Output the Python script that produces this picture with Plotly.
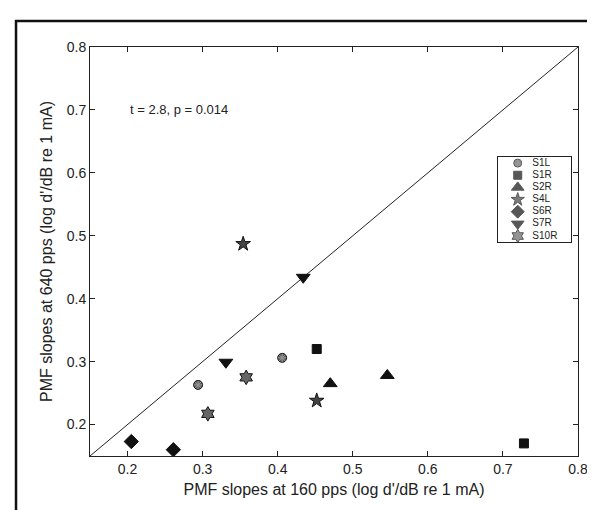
import plotly.graph_objects as go

# subject slopes: 160 pps (x) vs 640 pps (y)
subjects = ["S1L", "S1R", "S2R", "S4L", "S6R", "S7R", "S10R"]
x_160 = [
    [0.294, 0.406],
    [0.452, 0.728],
    [0.470, 0.546],
    [0.354, 0.452],
    [0.205, 0.261],
    [0.331, 0.434],
    [0.307, 0.358],
]
y_640 = [
    [0.263, 0.306],
    [0.320, 0.170],
    [0.265, 0.278],
    [0.487, 0.238],
    [0.173, 0.160],
    [0.299, 0.434],
    [0.217, 0.275],
]
tick_vals = [0.2, 0.3, 0.4, 0.5, 0.6, 0.7, 0.8]
unity = [0.15, 0.8]

symbols = ["circle", "square", "triangle-up", "star", "diamond", "triangle-down", "hexagram"]
fills = ["#5e5e5e", "#111111", "#111111", "#444444", "#111111", "#111111", "#666666"]
sizes = [9, 9, 12, 11, 11, 12, 11]
leg_sizes = [8, 8, 11, 10, 10, 11, 10]

fig = go.Figure()

fig.add_trace(go.Scatter(x=unity, y=unity, mode="lines",
                         line=dict(color="#222", width=1), showlegend=False,
                         hoverinfo="skip"))

for i, s in enumerate(subjects):
    fig.add_trace(go.Scatter(
        x=x_160[i], y=y_640[i], mode="markers", name=s, showlegend=False,
        marker=dict(symbol=symbols[i], size=sizes[i], color=fills[i],
                    line=dict(color="#111", width=1)),
    ))

# S1L circles carry a light asterisk inside
fig.add_trace(go.Scatter(
    x=x_160[0], y=y_640[0], mode="markers", showlegend=False, hoverinfo="skip",
    marker=dict(symbol="asterisk-open", size=7, color="#9a9a9a",
                line=dict(color="#9a9a9a", width=1)),
))

# hand-made legend box on its own small axes (MATLAB style, tight rows)
rows = list(range(1, len(subjects) + 1))
fig.add_trace(go.Scatter(
    x=[0.27] * len(subjects), y=rows, mode="markers", xaxis="x2", yaxis="y2",
    showlegend=False, hoverinfo="skip",
    marker=dict(symbol=symbols, size=leg_sizes, color=fills,
                line=dict(color="#111", width=1)),
))
fig.add_trace(go.Scatter(
    x=[0.27], y=rows[:1], mode="markers", xaxis="x2", yaxis="y2",
    showlegend=False, hoverinfo="skip",
    marker=dict(symbol="asterisk-open", size=6, color="#9a9a9a",
                line=dict(color="#9a9a9a", width=1)),
))
fig.add_trace(go.Scatter(
    x=[0.47] * len(subjects), y=rows, mode="text", text=subjects,
    textposition="middle right", xaxis="x2", yaxis="y2",
    showlegend=False, hoverinfo="skip",
    textfont=dict(size=10, color="#222"),
))

fig.add_annotation(x=0.2, y=0.7, text="t = 2.8, p = 0.014", showarrow=False,
                   xanchor="left", yanchor="middle",
                   font=dict(size=13, color="#222"))

# outer frame around the figure
fig.add_shape(type="rect", xref="paper", yref="paper",
              x0=-0.1516, x1=1.1, y0=-0.18, y1=1.0636,
              line=dict(color="#111", width=2.5), layer="above")

axis_style = dict(
    showgrid=False, zeroline=False, showline=True, linecolor="#222",
    linewidth=1, mirror="ticks", ticks="inside", ticklen=5,
    tickcolor="#222", tickvals=tick_vals, tickformat=".1f",
    tickfont=dict(size=14, color="#222"), range=[0.15, 0.8],
)

fig.update_xaxes(**axis_style,
                 title=dict(text="PMF slopes at 160 pps (log d'/dB re 1 mA)",
                            font=dict(size=16, color="#222"), standoff=8))
fig.update_yaxes(**axis_style,
                 title=dict(text="PMF slopes at 640 pps (log d'/dB re 1 mA)",
                            font=dict(size=16, color="#222"), standoff=10))

fig.update_layout(
    width=595, height=510,
    margin=dict(l=82, r=25, t=39, b=62),
    paper_bgcolor="white", plot_bgcolor="white",
    font=dict(family="Liberation Sans, Arial, sans-serif"),
    xaxis2=dict(domain=[0.836, 0.986], range=[0, 1], anchor="y2",
                showgrid=False, zeroline=False, showticklabels=False,
                showline=True, mirror=True, linecolor="#222", linewidth=1,
                ticks=""),
    yaxis2=dict(domain=[0.523, 0.731], range=[7.5, 0.5], anchor="x2",
                showgrid=False, zeroline=False, showticklabels=False,
                showline=True, mirror=True, linecolor="#222", linewidth=1,
                ticks=""),
)

fig.write_html("out.html")
